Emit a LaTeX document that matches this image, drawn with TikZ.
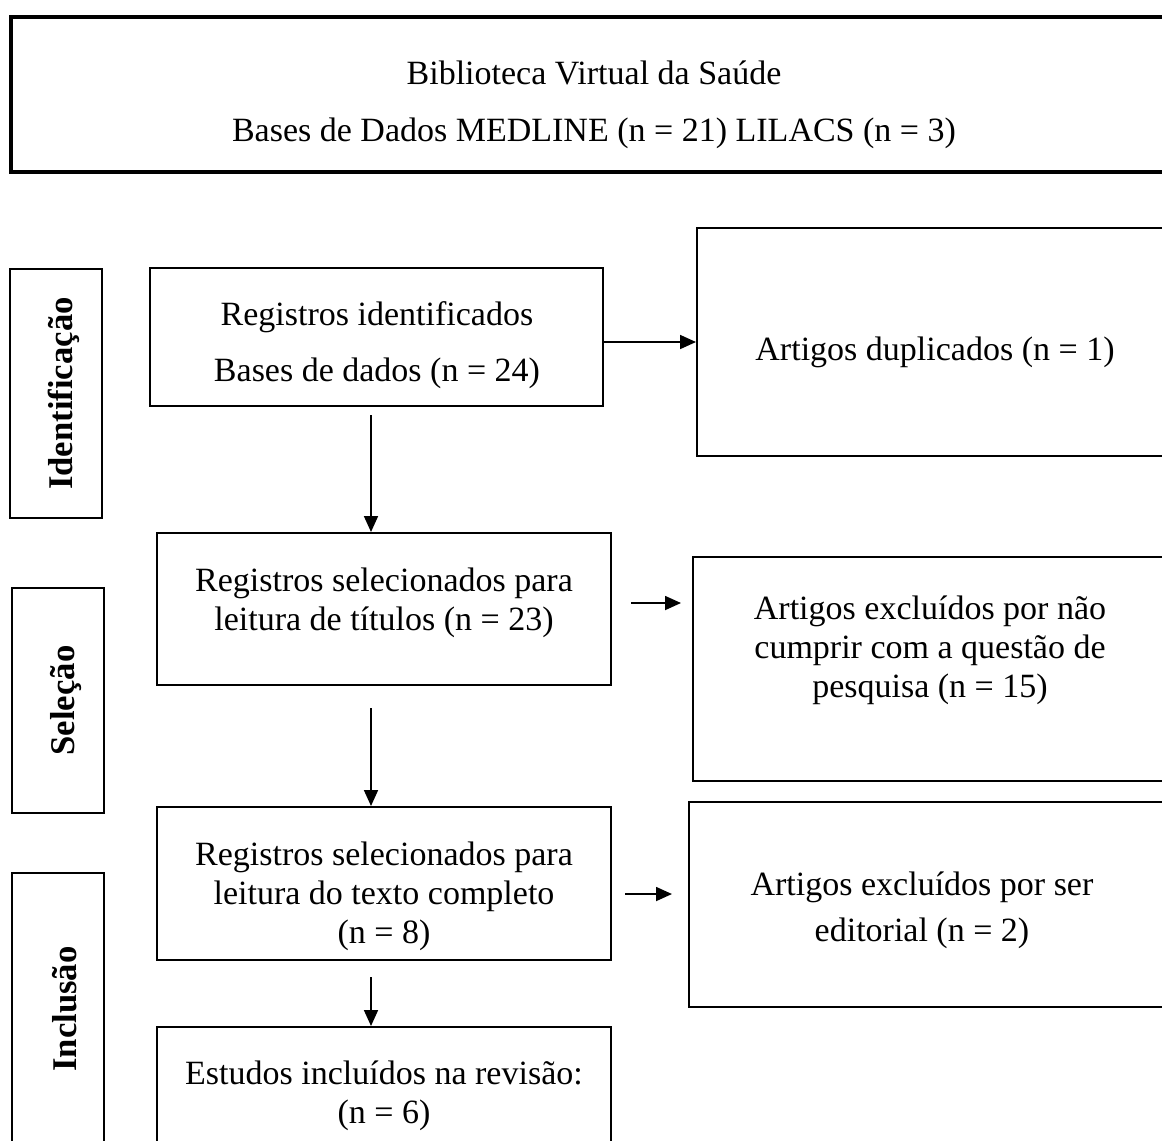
\documentclass[tikz,border=0pt]{standalone}
\usepackage{fontspec}
\setmainfont{Liberation Serif}
\usetikzlibrary{arrows.meta,fit}

\tikzset{every picture/.style={line width=0.75pt}}
\tikzset{
	caixa/.style={draw, inner sep=0pt, line width=1.5pt},
	etapa/.style={draw, inner sep=0pt, line width=1.8pt},
	txt/.style={align=center, inner sep=0pt, font=\fontsize{25.5}{29.25}\selectfont},
	rot/.style={rotate=90, inner sep=0pt, font=\fontsize{26}{30}\selectfont\bfseries},
	seta/.style={line width=1.3pt, -{Triangle[length=12pt,width=10.5pt]}},
}

\begin{document}
\begin{tikzpicture}[x=0.75pt,y=0.75pt,yscale=-1,xscale=1]
	\useasboundingbox (0,0) rectangle (1162,1140);
	\clip (0,0) rectangle (1162,1140);

	%Shape: Rectangle [id:bvs]
	\node[caixa, line width=2.6pt, fit={(11,17) (1180,172)}] (bvs) {};
	% Text Node
	\node[txt] (bvs-t1) at (594,73) {Biblioteca Virtual da Saúde};
	% Text Node
	\node[txt] (bvs-t2) at (594,133) {Bases de Dados MEDLINE (n = 21) LILACS (n = 3)};

	%Shape: Rectangle [id:ident]
	\node[etapa, fit={(10,269) (102,518)}] (ident) {};
	\node[rot] (ident-t) at ([xshift=6pt]ident.center) {Identificação};
	%Shape: Rectangle [id:selec]
	\node[etapa, fit={(12,588) (104,813)}] (selec) {};
	\node[rot] (selec-t) at ([xshift=6pt]selec.center) {Seleção};
	%Shape: Rectangle [id:inclu]
	\node[etapa, fit={(12,873) (104,1145)}] (inclu) {};
	\node[rot] (inclu-t) at ([xshift=5pt]inclu.center) {Inclusão};

	%Shape: Rectangle [id:reg]
	\node[caixa, fit={(150,268) (603,406)}] (reg) {};
	% Text Node
	\node[txt, font=\fontsize{25.5}{42}\selectfont] (reg-t) at (377,345) {Registros identificados\\Bases de dados (n = 24)};
	%Shape: Rectangle [id:sel]
	\node[caixa, fit={(157,533) (611,685)}] (sel) {};
	% Text Node
	\node[txt] (sel-t) at (384,603) {Registros selecionados para\\leitura de títulos (n = 23)};
	%Shape: Rectangle [id:txc]
	\node[caixa, fit={(157,807) (611,960)}] (txc) {};
	% Text Node
	\node[txt] (txc-t) at (384,896) {Registros selecionados para\\leitura do texto completo\\(n = 8)};
	%Shape: Rectangle [id:inc]
	\node[caixa, fit={(157,1027) (611,1170)}] (inc) {};
	% Text Node
	\node[txt] (inc-t) at (384,1096) {Estudos incluídos na revisão:\\(n = 6)};

	%Shape: Rectangle [id:dup]
	\node[caixa, fit={(697,228) (1180,456)}] (dup) {};
	% Text Node
	\node[txt] (dup-t) at (935,352) {Artigos duplicados (n = 1)};
	%Shape: Rectangle [id:exc1]
	\node[caixa, fit={(693,557) (1180,781)}] (exc1) {};
	% Text Node
	\node[txt] (exc1-t) at (930,650) {Artigos excluídos por não\\cumprir com a questão de\\pesquisa (n = 15)};
	%Shape: Rectangle [id:exc2]
	\node[caixa, fit={(689,802) (1180,1007)}] (exc2) {};
	% Text Node
	\node[txt, font=\fontsize{25.5}{34.5}\selectfont] (exc2-t) at (922,910) {Artigos excluídos por ser\\editorial (n = 2)};

	%Straight Lines [id:setas]
	\coordinate (a1) at (371,415);
	\coordinate (a2) at (371,708);
	\coordinate (a3) at (371,977);
	\draw[seta] (a1) -- (a1 |- sel.north);
	\draw[seta] (a2) -- (a2 |- txc.north);
	\draw[seta] (a3) -- (a3 |- inc.north);
	\draw[seta] (reg.east |- dup.center) -- (dup.west);
	\coordinate (b1) at (631,603);
	\coordinate (b1e) at (681,603);
	\coordinate (b2) at (625,894);
	\coordinate (b2e) at (672,894);
	\draw[seta] (b1) -- (b1e);
	\draw[seta] (b2) -- (b2e);

\end{tikzpicture}
\end{document}
